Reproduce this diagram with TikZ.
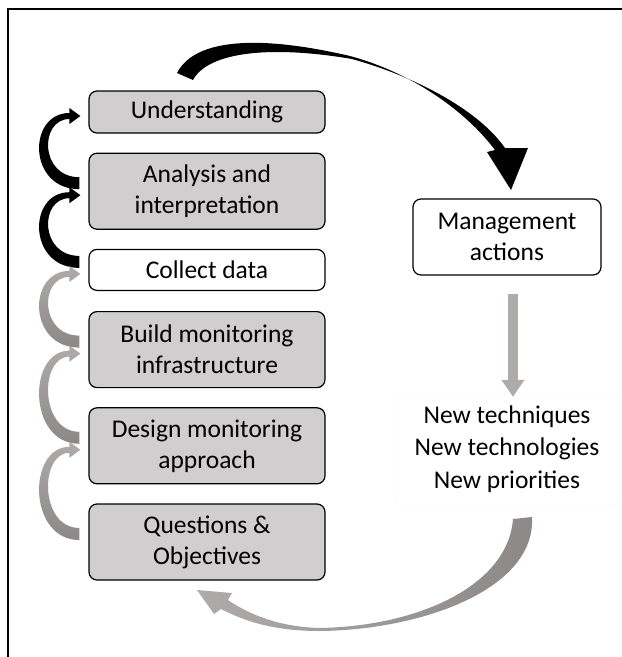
\documentclass[tikz,border=0pt]{standalone}
\usepackage{fontspec}
\setmainfont{Carlito}
\usetikzlibrary{positioning,arrows.meta,calc}
\definecolor{boxgray}{HTML}{D0CECE}
\definecolor{arrowgray}{HTML}{AFABAB}
\definecolor{arrowdark}{HTML}{8C8888}
\definecolor{faintline}{HTML}{F7F7F7}

% tapered side arrow: tail point, head tip, style
\newcommand{\SideArrow}[3]{%
  \path[#3] let \p1=(#1), \p2=(#2) in
    (\x1,\y1-6pt) .. controls (\x1-52pt,\y1-6pt) and (\x2-52pt,\y2+3pt) .. (\x2-10pt,\y2+3pt)
    -- (\x2-10pt,\y2+8pt) -- (\x2+1pt,\y2) -- (\x2-10pt,\y2-8pt) -- (\x2-10pt,\y2-3pt)
    .. controls (\x2-40pt,\y2-3pt) and (\x1-40pt,\y1+6pt) .. (\x1,\y1+6pt) -- cycle;}

\begin{document}
\begin{tikzpicture}[x=1pt,y=-1pt,
  stage/.style={draw, line width=1.2pt, rounded corners=8pt, fill=boxgray,
    minimum width=236pt, minimum height=76pt, align=center, inner sep=2pt,
    font=\fontsize{25.5}{31}\selectfont},
  stagewhite/.style={stage, fill=white},
  blackstep/.style={fill=black},
  graystep/.style={top color=arrowgray, bottom color=arrowdark}
  ]
  \useasboundingbox (0,0) rectangle (622,657);
  \draw[line width=1.5pt] (8,657) -- (8,9) -- (622,9);

  % monitoring steps, top to bottom
  \node[stage, minimum height=42pt] (Understanding) at (207,112) {Understanding};
  \node[stage, below=19pt of Understanding] (Analysis) {Analysis and\\interpretation};
  \node[stagewhite, minimum height=41pt, below=19pt of Analysis] (Collect) {Collect data};
  \node[stage, below=20pt of Collect] (Build) {Build monitoring\\infrastructure};
  \node[stage, below=19pt of Build] (Design) {Design monitoring\\approach};
  \node[stage, below=19pt of Design] (Questions) {Questions \&\\Objectives};

  \node[stagewhite, minimum width=188pt] (Management) at (507,237) {Management\\actions};
  \node[draw=faintline, rounded corners=8pt, minimum width=226pt, minimum height=112pt,
    align=center, font=\fontsize{25.5}{32.5}\selectfont] (NewThings) at (507,449)
    {New techniques\\New technologies\\New priorities};

  \draw[arrowgray, line width=10pt, -{Triangle[width=22pt,length=17pt]}]
    ([xshift=6pt,yshift=-18pt]Management.south) -- ([xshift=6pt,yshift=-4pt]NewThings.north);

  \SideArrow{[xshift=-9pt,yshift=8pt]Analysis.west}{[xshift=-9pt,yshift=-4pt]Understanding.west}{blackstep}
  \SideArrow{[xshift=-9pt,yshift=8pt]Collect.west}{[xshift=-9pt,yshift=-4pt]Analysis.west}{blackstep}
  \SideArrow{[xshift=-9pt,yshift=8pt]Build.west}{[xshift=-9pt,yshift=-4pt]Collect.west}{graystep}
  \SideArrow{[xshift=-9pt,yshift=8pt]Design.west}{[xshift=-9pt,yshift=-4pt]Build.west}{graystep}
  \SideArrow{[xshift=-9pt,yshift=8pt]Questions.west}{[xshift=-9pt,yshift=-4pt]Design.west}{graystep}

  % big loop arrows
  \fill (177,73) .. controls (195,38) and (260,35) .. (350,56)
    .. controls (410,72) and (465,110) .. (495,150) -- (487,152) -- (511,190) -- (528,148) -- (505,148)
    .. controls (480,112) and (420,78) .. (352,59)
    .. controls (270,45) and (208,52) .. (193,80) -- cycle;
  \shade[left color=arrowgray, right color=arrowdark]
    (513,519) -- (532,517) .. controls (536,590) and (420,630) .. (320,631)
    .. controls (280,631) and (250,624) .. (221,609) -- (214,614) -- (197,590) -- (232,593) -- (228,600)
    .. controls (250,615) and (280,627) .. (320,628)
    .. controls (420,626) and (508,585) .. (513,519) -- cycle;
\end{tikzpicture}
\end{document}
